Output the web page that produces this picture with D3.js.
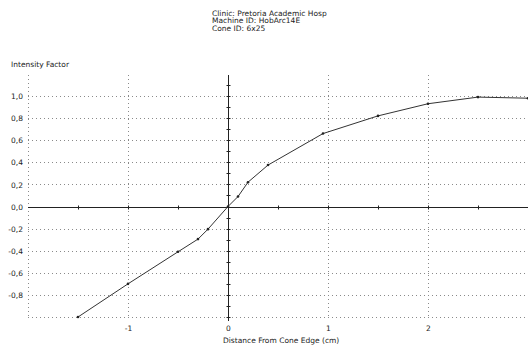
<!DOCTYPE html>
<html>
<head>
<meta charset="utf-8">
<script src="https://cdn.jsdelivr.net/npm/d3@7"></script>
<style>
body { margin: 0; background: #fff; }
text { font-family: "DejaVu Sans", sans-serif; font-size: 7.5px; fill: #222; }
</style>
</head>
<body>
<svg id="chart" width="528" height="347"></svg>
<script>
// titre et libellés
var titleLines = ["Clinic: Pretoria Academic Hosp", "Machine ID: HobArc14E", "Cone ID: 6x25"];
var yTitle = "Intensity Factor";
var xTitle = "Distance From Cone Edge (cm)";

// valeurs
var distance = [-1.5, -1.0, -0.5, -0.3, -0.2, 0, 0.1, 0.2, 0.4, 0.95, 1.5, 2.0, 2.5, 3.0];
var intensity = [-1.0, -0.70, -0.41, -0.295, -0.205, 0, 0.09, 0.22, 0.375, 0.66, 0.82, 0.93, 0.99, 0.98];

var xTicks = [-1, 0, 1, 2];
var yTicks = [-0.8, -0.6, -0.4, -0.2, 0, 0.2, 0.4, 0.6, 0.8, 1.0];
var hGrid = [-1.0, -0.8, -0.6, -0.4, -0.2, 0.2, 0.4, 0.6, 0.8, 1.0];
var vGrid = [-2, -1, 1, 2];

var svg = d3.select("#chart");

var x = d3.scaleLinear().domain([-2, 3]).range([28, 528]);
var y = d3.scaleLinear().domain([-1, 1]).range([317, 96]);
var yTop = 1.19;

// grille pointillée
svg.append("g").selectAll("line")
  .data(hGrid)
  .enter().append("line")
  .attr("x1", x(-2)).attr("x2", 528)
  .attr("y1", function(d) { return Math.round(y(d)) + 0.5; })
  .attr("y2", function(d) { return Math.round(y(d)) + 0.5; })
  .attr("stroke", "#8a8a8a")
  .attr("stroke-dasharray", "1,3");

svg.append("g").selectAll("line")
  .data(vGrid)
  .enter().append("line")
  .attr("x1", function(d) { return Math.round(x(d)) + 0.5; })
  .attr("x2", function(d) { return Math.round(x(d)) + 0.5; })
  .attr("y1", y(yTop)).attr("y2", y(-1))
  .attr("stroke", "#8a8a8a")
  .attr("stroke-dasharray", "1,3");

// axes à zéro
var x0 = Math.round(x(0)) + 0.5, y0 = Math.round(y(0)) + 0.5;
svg.append("line")
  .attr("x1", x(-2)).attr("x2", 528)
  .attr("y1", y0).attr("y2", y0)
  .attr("stroke", "#222");
svg.append("line")
  .attr("x1", x0).attr("x2", x0)
  .attr("y1", y(yTop)).attr("y2", y(-1) + 4)
  .attr("stroke", "#222");

// petites graduations
svg.append("g").selectAll("line")
  .data(d3.range(-15, 30, 5).map(function(v) { return v / 10; }))
  .enter().append("line")
  .attr("x1", function(d) { return Math.round(x(d)) + 0.5; })
  .attr("x2", function(d) { return Math.round(x(d)) + 0.5; })
  .attr("y1", y0 - 2).attr("y2", y0 + 2)
  .attr("stroke", "#222");

svg.append("g").selectAll("line")
  .data(d3.range(-10, 12, 1).map(function(v) { return v / 10; }))
  .enter().append("line")
  .attr("x1", x0 - 2).attr("x2", x0 + 2)
  .attr("y1", function(d) { return Math.round(y(d)) + 0.5; })
  .attr("y2", function(d) { return Math.round(y(d)) + 0.5; })
  .attr("stroke", "#222");

// étiquettes des axes
var fmt = function(d) { return d3.format(".1f")(d).replace(".", ",").replace("−", "-"); };

var yAxis = svg.append("g")
  .attr("transform", "translate(" + 28 + ",0)")
  .call(d3.axisLeft(y).tickValues(yTicks).tickSize(0).tickPadding(5).tickFormat(fmt));
yAxis.select(".domain").remove();
yAxis.selectAll("text").attr("dy", "0.35em");

var xAxis = svg.append("g")
  .attr("transform", "translate(0," + y(-1) + ")")
  .call(d3.axisBottom(x).tickValues(xTicks).tickSize(0).tickPadding(9)
    .tickFormat(function(d) { return d3.format("d")(d).replace("−", "-"); }));
xAxis.select(".domain").remove();

svg.selectAll(".tick text").style("font-family", "DejaVu Sans, sans-serif").style("font-size", "7.5px").style("fill", "#222");

// courbe
var line = d3.line()
  .x(function(d, i) { return x(distance[i]); })
  .y(function(d) { return y(d); });

svg.append("path")
  .datum(intensity)
  .attr("d", line)
  .attr("fill", "none")
  .attr("stroke", "#333")
  .attr("stroke-width", 1);

svg.append("g").selectAll("circle")
  .data(intensity)
  .enter().append("circle")
  .attr("cx", function(d, i) { return x(distance[i]); })
  .attr("cy", function(d) { return y(d); })
  .attr("r", 1.3)
  .attr("fill", "#222");

// textes
svg.append("g").selectAll("text")
  .data(titleLines)
  .enter().append("text")
  .attr("x", 212)
  .attr("y", function(d, i) { return 15.5 + i * 7.5; })
  .text(function(d) { return d; });

svg.append("text").attr("x", 11).attr("y", 67).text(yTitle);
svg.append("text").attr("x", 223).attr("y", 343).text(xTitle);
</script>
</body>
</html>
